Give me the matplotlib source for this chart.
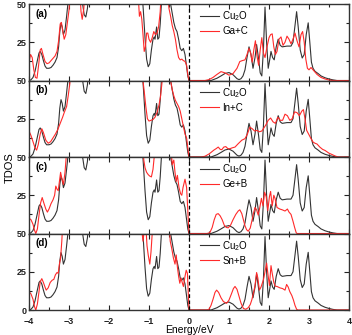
import matplotlib
matplotlib.use("Agg")
import matplotlib.pyplot as plt
from matplotlib.ticker import MultipleLocator

plt.rcParams['font.family'] = ['Liberation Sans', 'DejaVu Sans']
plt.rcParams['mathtext.fontset'] = 'custom'
plt.rcParams['mathtext.rm'] = 'Liberation Sans'

# Cu2O reference TDOS (same curve in every panel); 60 = off the top of the panel
cu2o_e = [-4.00, -3.95, -3.90, -3.85, -3.80, -3.75, -3.72, -3.68, -3.64, -3.60, -3.56, -3.50,
          -3.45, -3.40, -3.35, -3.30, -3.26, -3.23, -3.20, -3.17, -3.14, -3.10, -3.06, -3.02,
          -2.98, -2.70, -2.66, -2.62, -2.58, -2.54, -2.50, -1.18, -1.14, -1.10, -1.06, -1.02,
          -0.98, -0.94, -0.90, -0.87, -0.85, -0.81, -0.78, -0.75, -0.72, -0.69, -0.66, -0.50,
          -0.46, -0.42, -0.38, -0.34, -0.30, -0.26, -0.22, -0.18, -0.14, -0.10, -0.06, -0.03,
          0.00, 0.55, 0.60, 0.70, 0.80, 0.90, 1.00, 1.10, 1.20, 1.25, 1.30, 1.35, 1.40, 1.45,
          1.50, 1.55, 1.60, 1.65, 1.69, 1.74, 1.78, 1.82, 1.86, 1.90, 1.94, 1.98, 2.02, 2.05,
          2.09, 2.13, 2.18, 2.23, 2.28, 2.33, 2.45, 2.55, 2.60, 2.65, 2.69, 2.73, 2.78, 2.83,
          2.88, 2.93, 2.98, 3.02, 3.06, 3.10, 3.15, 3.23, 3.30, 3.40, 3.50, 3.60, 3.70, 4.00]
cu2o_d = [0, 0.5, 2, 6, 12, 18, 19, 17, 13, 9.5, 8, 8,
          8.5, 10, 12, 15, 22, 32, 37.5, 35, 30, 33, 42, 52,
          60, 60, 50, 43, 41.5, 47, 60, 60, 45, 28, 14, 9,
          11, 20, 27, 28.5, 27, 35, 27, 28, 37, 50, 60, 60,
          50, 44, 38, 34, 32, 27, 21, 19.5, 21, 17, 9, 3,
          0, 0, 0.5, 1.5, 3.0, 4.6, 5.2, 3.8, 1.2, 0.6, 1.2, 3, 7, 15,
          22, 17, 8, 15, 23.5, 14, 5, 3, 20, 48, 25, 8, 14, 19,
          15, 13.5, 22, 27, 23, 22, 22.5, 22.5, 25, 36, 45, 35, 20, 14.7,
          17, 30, 37.7, 25, 12, 8, 6, 4.5, 3, 1.8, 1, 0.4, 0, 0]

# Ga+C doped
gac_e = [-4.00, -3.96, -3.92, -3.88, -3.84, -3.80, -3.76, -3.72, -3.69, -3.65, -3.60, -3.55,
         -3.50, -3.45, -3.40, -3.35, -3.30, -3.26, -3.22, -3.19, -3.16, -3.12, -3.08, -3.04,
         -3.00, -2.96, -2.73, -2.70, -2.67, -2.63, -2.60, -1.28, -1.24, -1.21, -1.18, -1.15,
         -1.12, -1.09, -1.06, -1.03, -1.00, -0.96, -0.92, -0.88, -0.84, -0.80, -0.76, -0.72,
         -0.69, -0.55, -0.50, -0.46, -0.42, -0.38, -0.34, -0.30, -0.26, -0.22, -0.18, -0.14,
         -0.10, -0.06, -0.03, 0.00, 0.40, 0.50, 0.60, 0.70, 0.80, 0.90, 1.00, 1.10, 1.20,
         1.27, 1.33, 1.40, 1.45, 1.50, 1.54, 1.58, 1.62, 1.66, 1.70, 1.74, 1.78, 1.82, 1.86,
         1.90, 1.95, 2.00, 2.04, 2.08, 2.12, 2.16, 2.20, 2.25, 2.30, 2.35, 2.40, 2.45, 2.50,
         2.55, 2.60, 2.65, 2.70, 2.75, 2.80, 2.84, 2.88, 2.92, 2.96, 3.00, 3.05, 3.10, 3.20,
         3.30, 3.40, 3.50, 3.60, 4.00]
gac_d = [12, 17, 15, 7, 2, 1.5, 10, 20, 21, 17, 12.5, 11,
         11.5, 13, 14.5, 16, 19, 26, 37, 38, 33, 27, 30, 38,
         46, 60, 60, 45, 40, 47, 60, 60, 42, 45, 40, 30,
         19, 22, 31, 31, 27, 25, 28, 32, 30, 31, 35, 45,
         60, 60, 47, 42, 36, 32, 27, 20, 15, 13.5, 14, 13,
         12.5, 10, 4, 0, 0, 0.6, 2, 4, 5.8, 5, 3.5, 4.5, 8,
         12.4, 13, 13.5, 17, 21, 18, 12, 20, 26, 16, 10, 20, 28, 18,
         15, 22, 28, 30, 30.5, 22, 17, 19, 27, 28.5, 23, 25, 29, 27,
         24, 27, 31, 26, 22, 30, 32, 25, 14, 8, 7, 8.5, 7, 4,
         2, 1, 0.3, 0, 0]

# In+C doped
inc_e = [-4.00, -3.95, -3.90, -3.85, -3.81, -3.77, -3.72, -3.68, -3.64, -3.58, -3.52, -3.46,
         -3.40, -3.34, -3.28, -3.22, -3.16, -3.12, -3.06, -3.02, -2.98, -2.94, -1.20, -1.16,
         -1.12, -1.08, -1.04, -1.00, -0.95, -0.90, -0.85, -0.80, -0.75, -0.71, -0.67, -0.64,
         -0.50, -0.46, -0.42, -0.38, -0.34, -0.30, -0.26, -0.22, -0.18, -0.14, -0.10, -0.06,
         -0.03, 0.00, 0.30, 0.40, 0.50, 0.55, 0.62, 0.68, 0.73, 0.78, 0.82, 0.87, 0.92, 0.97,
         1.02, 1.08, 1.15, 1.23, 1.32, 1.40, 1.46, 1.52, 1.58, 1.64, 1.70, 1.76, 1.82, 1.86,
         1.92, 1.98, 2.04, 2.10, 2.16, 2.22, 2.28, 2.34, 2.40, 2.46, 2.52, 2.58, 2.64, 2.70,
         2.76, 2.82, 2.86, 2.90, 2.94, 3.00, 3.05, 3.10, 3.15, 3.20, 3.27, 3.34, 3.40, 3.50,
         3.57, 3.65, 3.73, 4.00]
inc_d = [17, 14, 10, 6, 4.5, 8, 15, 18.5, 16, 11, 9, 10,
         12.5, 15, 18, 22, 26, 29, 33, 40, 48, 60, 60, 52,
         43, 33, 25, 23.5, 24, 24.5, 26, 29, 34, 40, 50, 60,
         60, 50, 44, 40, 37, 35, 33, 30, 25, 20, 15, 12.5,
         6, 0, 0, 0.5, 2, 3, 4.5, 5.5, 6.5, 5, 4.8, 6.5, 6.8, 5.5,
         5.4, 6, 6.5, 8.7, 11, 12, 15, 19.5, 18.5, 17, 17.4, 16.5, 17, 18.5,
         21, 24, 25.5, 23, 22, 26, 24, 24, 28, 27, 24, 25, 29.5, 29,
         27, 30, 31, 25, 17.5, 14.5, 12, 9.8, 9, 8.5, 6.5, 5, 4.3, 2.5,
         1.7, 0.7, 0, 0]

# Ge+B doped
geb_e = [-4.00, -3.95, -3.90, -3.86, -3.83, -3.79, -3.75, -3.71, -3.67, -3.63, -3.58, -3.54,
         -3.50, -3.45, -3.40, -3.36, -3.33, -3.30, -3.27, -3.24, -3.21, -3.18, -3.14, -3.10,
         -3.07, -3.04, -1.16, -1.13, -1.10, -1.06, -1.02, -0.98, -0.94, -0.90, -0.87, -0.84,
         -0.46, -0.42, -0.38, -0.35, -0.32, -0.29, -0.25, -0.21, -0.18, -0.15, -0.10, -0.06,
         -0.03, 0.00, 0.45, 0.52, 0.58, 0.63, 0.68, 0.73, 0.78, 0.83, 0.88, 0.93, 0.98, 1.04,
         1.10, 1.17, 1.23, 1.27, 1.32, 1.36, 1.40, 1.44, 1.48, 1.53, 1.57, 1.61, 1.65, 1.69,
         1.73, 1.77, 1.81, 1.85, 1.89, 1.93, 1.97, 2.01, 2.04, 2.08, 2.12, 2.15, 2.20, 2.27,
         2.33, 2.40, 2.46, 2.50, 2.55, 2.60, 2.64, 2.68, 2.70, 4.00]
geb_d = [10, 9, 6, 2, 0, 3, 12, 20, 23.5, 20, 16, 14,
         16, 19.5, 22, 25, 31, 29, 28, 34, 40, 36, 32, 40,
         50, 60, 60, 48, 43, 40, 38.5, 37.5, 37, 42, 50, 60,
         60, 45, 48, 40, 34, 38, 30, 26, 25, 30, 35.5, 30,
         15, 0, 0, 0.5, 4, 9, 12.5, 13, 11.5, 9, 5.5, 4, 3.7, 5.5,
         9, 12.5, 14.7, 15.5, 13, 9, 5, 2.5, 1.5, 3.5, 8, 13, 17, 15.5,
         12, 17, 23, 18, 27, 24, 15, 24, 27.5, 18, 25, 23, 17, 16,
         15.5, 14.7, 16, 14, 12.5, 8, 4, 0.5, 0, 0]

# Sn+B doped
snb_e = [-4.00, -3.95, -3.90, -3.86, -3.83, -3.79, -3.75, -3.72, -3.68, -3.64, -3.60, -3.57,
         -3.52, -3.47, -3.42, -3.38, -3.34, -3.30, -3.27, -3.24, -3.21, -3.18, -3.15, -1.22,
         -1.18, -1.15, -1.12, -1.09, -1.05, -1.02, -0.98, -0.95, -0.92, -0.89, -0.50, -0.47,
         -0.43, -0.39, -0.35, -0.32, -0.29, -0.26, -0.23, -0.20, -0.17, -0.14, -0.10, -0.07,
         -0.04, -0.02, 0.00, 0.45, 0.50, 0.55, 0.60, 0.65, 0.69, 0.74, 0.80, 0.86, 0.94, 1.00,
         1.06, 1.11, 1.15, 1.20, 1.25, 1.30, 1.36, 1.42, 1.48, 1.53, 1.57, 1.61, 1.65, 1.69,
         1.72, 1.76, 1.80, 1.86, 1.90, 1.94, 1.98, 2.01, 2.05, 2.08, 2.12, 2.16, 2.20, 2.27,
         2.34, 2.40, 2.44, 2.48, 2.52, 2.57, 2.61, 2.65, 2.69, 2.72, 4.00]
snb_d = [12, 10.5, 7, 2, 0, 4, 12, 18.4, 20.5, 18, 15, 13,
         14.5, 18, 19.5, 20, 23, 24.5, 24, 30, 34, 45, 60, 60,
         52, 45, 52, 60, 42, 36, 30, 38, 50, 60, 60, 45,
         40, 34, 30, 36, 28, 22, 17.5, 21, 18, 15.4, 22, 26,
         24, 12, 0, 0, 0.5, 3, 7, 11.5, 13, 11.5, 8, 5.5, 4.4, 6.5,
         10.5, 14, 15.4, 13.5, 9, 4.5, 1, 0.5, 1.5, 3.5, 6.6, 11, 16, 24.5,
         21, 13, 15, 19.7, 25, 30.7, 22, 16, 29, 24, 18, 15.5, 15.4, 14.5,
         14, 13, 16.7, 15, 12, 9.5, 6.6, 3, 0.5, 0, 0]

panel_tags = ['(a)', '(b)', '(c)', '(d)']
doped_names = ['Ga+C', 'In+C', 'Ge+B', 'Sn+B']
doped_e = [gac_e, inc_e, geb_e, snb_e]
doped_d = [gac_d, inc_d, geb_d, snb_d]

fig, axes = plt.subplots(4, 1, sharex=True, figsize=(3.52, 3.35), dpi=100)
fig.subplots_adjust(left=0.0824, right=0.9915, top=0.988, bottom=0.0746, hspace=0)

for i, ax in enumerate(axes):
    ax.plot(cu2o_e, cu2o_d, color='#333333', lw=0.8, label='Cu$_2$O')
    ax.plot(doped_e[i], doped_d[i], color='#ff2a2a', lw=0.8, label=doped_names[i])
    ax.axvline(0, color='black', lw=0.9, ls=(0, (3, 2)))
    ax.set_xlim(-4, 4)
    ax.set_ylim(0, 50)
    ax.xaxis.set_major_locator(MultipleLocator(1))
    ax.xaxis.set_minor_locator(MultipleLocator(0.5))
    ax.set_yticks([0, 25, 50])
    ax.yaxis.set_minor_locator(MultipleLocator(12.5))
    if i < 3:
        ax.set_yticklabels(['', '25', '50'])
    else:
        ax.set_yticklabels(['0', '25', '50'])
    ax.tick_params(which='both', direction='in', top=True, right=True, width=0.8,
                   labelsize=6.5, pad=2, colors='#222222')
    ax.tick_params(axis='x', which='both', pad=5)
    ax.tick_params(which='major', length=3.5)
    ax.tick_params(which='minor', length=2)
    for lab in ax.get_xticklabels() + ax.get_yticklabels():
        lab.set_fontweight('bold')
    for sp in ax.spines.values():
        sp.set_linewidth(1.0)
        sp.set_color('#333333')
    ax.text(0.02, 0.87, panel_tags[i], transform=ax.transAxes, fontsize=7,
            fontweight='bold', va='center', ha='left')
    ax.legend(loc='upper left', bbox_to_anchor=(0.535, 0.93), frameon=False, fontsize=7,
              handlelength=1.9, handletextpad=0.35, labelspacing=0.3, borderaxespad=0,
              borderpad=0)

axes[-1].set_xlabel('Energy/eV', fontsize=7.5, labelpad=-1)
fig.text(0.028, 0.5, 'TDOS', rotation=90, fontsize=8, va='center', ha='center')

fig.savefig('out.png', dpi=100)
